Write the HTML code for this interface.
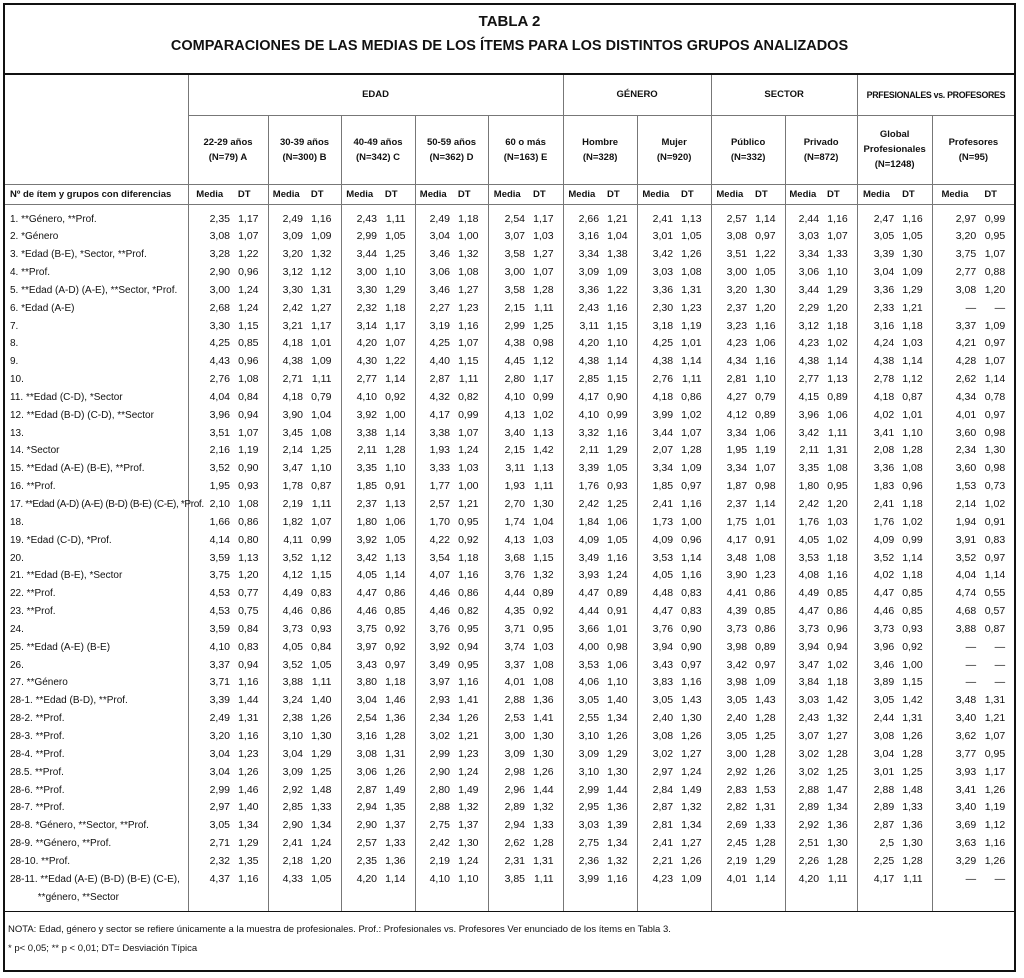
<!DOCTYPE html>
<html><head><meta charset="utf-8">
<style>
html,body{margin:0;padding:0;background:#fff;}
body{width:1024px;height:978px;position:relative;font-family:"Liberation Sans",sans-serif;color:#111;overflow:hidden;}
#box{position:absolute;left:3px;top:3px;width:1013px;height:969px;border:2px solid #111;box-sizing:border-box;}
#title{position:absolute;left:0;top:0;width:1009px;height:68px;border-bottom:2px solid #111;text-align:center;font-weight:bold;font-size:14px;}
#title div{position:absolute;left:0;right:0;}
table{position:absolute;left:0;top:70px;border-collapse:collapse;table-layout:fixed;width:1009px;}
td{padding:0;white-space:nowrap;overflow:visible;font-size:10.5px;}
tbody td{line-height:17.85px;height:17.85px;vertical-align:top;}
tbody td:nth-child(even){border-left:1px solid #777;text-align:right;padding-right:1px;}
tbody td:nth-child(odd){text-align:right;padding-right:9px;}
tbody td:first-child{text-align:left;padding-left:5px;padding-right:0;font-size:10px;}
.h td{font-weight:bold;font-size:9.5px;text-align:center;}
.gl{border-left:1px solid #777;}
.bb{border-bottom:1px solid #777;}
.mr td{height:19px;border-top:1px solid #777;border-bottom:1px solid #777;font-weight:bold;font-size:9.5px;}
.mr td:nth-child(even){border-left:1px solid #777;text-align:center;padding-right:0;}
.mr td:nth-child(odd){text-align:center;padding-right:10px;}
.mr td:first-child{text-align:left;padding-left:5px;}
tr.sp td{height:6px;line-height:6px;}
tr.end td{height:5px;line-height:5px;border-bottom:1px solid #111;}
#notes{position:absolute;left:8px;top:920px;font-size:9.5px;line-height:19px;}
</style></head><body>
<div id="box">
<div id="title"><div style="top:8px;font-size:15px">TABLA 2</div><div style="top:33px;font-size:14.5px">COMPARACIONES DE LAS MEDIAS DE LOS ÍTEMS PARA LOS DISTINTOS GRUPOS ANALIZADOS</div></div>
<table>
<colgroup><col style="width:183px">
<col style="width:43px"><col style="width:37px">
<col style="width:36px"><col style="width:37px">
<col style="width:37px"><col style="width:37px">
<col style="width:36px"><col style="width:37px">
<col style="width:38px"><col style="width:37px">
<col style="width:37px"><col style="width:37px">
<col style="width:37px"><col style="width:37px">
<col style="width:37px"><col style="width:37px">
<col style="width:35px"><col style="width:37px">
<col style="width:38px"><col style="width:37px">
<col style="width:45px"><col style="width:37px">
</colgroup>
<thead>
<tr class="h" style="height:40px"><td rowspan="2"></td><td colspan="10" class="gl bb">EDAD</td><td colspan="4" class="gl bb">GÉNERO</td><td colspan="4" class="gl bb">SECTOR</td><td colspan="4" class="gl bb" style="font-size:8.8px;letter-spacing:-0.3px">PRFESIONALES vs. PROFESORES</td></tr>
<tr class="h" style="height:69px;line-height:15px">
<td colspan="2" class="gl">22-29 años<br>(N=79) A</td>
<td colspan="2" class="gl">30-39 años<br>(N=300) B</td>
<td colspan="2" class="gl">40-49 años<br>(N=342) C</td>
<td colspan="2" class="gl">50-59 años<br>(N=362) D</td>
<td colspan="2" class="gl">60 o más<br>(N=163) E</td>
<td colspan="2" class="gl">Hombre<br>(N=328)</td>
<td colspan="2" class="gl">Mujer<br>(N=920)</td>
<td colspan="2" class="gl">Público<br>(N=332)</td>
<td colspan="2" class="gl">Privado<br>(N=872)</td>
<td colspan="2" class="gl">Global<br>Profesionales<br>(N=1248)</td>
<td colspan="2" class="gl">Profesores<br>(N=95)</td></tr>
<tr class="mr"><td>Nº de ítem y grupos con diferencias</td><td>Media</td><td>DT</td><td>Media</td><td>DT</td><td>Media</td><td>DT</td><td>Media</td><td>DT</td><td>Media</td><td>DT</td><td>Media</td><td>DT</td><td>Media</td><td>DT</td><td>Media</td><td>DT</td><td>Media</td><td>DT</td><td>Media</td><td>DT</td><td>Media</td><td>DT</td></tr>
</thead>
<tbody>
<tr class="sp"><td></td><td></td><td></td><td></td><td></td><td></td><td></td><td></td><td></td><td></td><td></td><td></td><td></td><td></td><td></td><td></td><td></td><td></td><td></td><td></td><td></td><td></td><td></td></tr>
<tr><td>1. **Género, **Prof.</td><td>2,35</td><td>1,17</td><td>2,49</td><td>1,16</td><td>2,43</td><td>1,11</td><td>2,49</td><td>1,18</td><td>2,54</td><td>1,17</td><td>2,66</td><td>1,21</td><td>2,41</td><td>1,13</td><td>2,57</td><td>1,14</td><td>2,44</td><td>1,16</td><td>2,47</td><td>1,16</td><td>2,97</td><td>0,99</td></tr>
<tr><td>2. *Género</td><td>3,08</td><td>1,07</td><td>3,09</td><td>1,09</td><td>2,99</td><td>1,05</td><td>3,04</td><td>1,00</td><td>3,07</td><td>1,03</td><td>3,16</td><td>1,04</td><td>3,01</td><td>1,05</td><td>3,08</td><td>0,97</td><td>3,03</td><td>1,07</td><td>3,05</td><td>1,05</td><td>3,20</td><td>0,95</td></tr>
<tr><td>3. *Edad (B-E), *Sector, **Prof.</td><td>3,28</td><td>1,22</td><td>3,20</td><td>1,32</td><td>3,44</td><td>1,25</td><td>3,46</td><td>1,32</td><td>3,58</td><td>1,27</td><td>3,34</td><td>1,38</td><td>3,42</td><td>1,26</td><td>3,51</td><td>1,22</td><td>3,34</td><td>1,33</td><td>3,39</td><td>1,30</td><td>3,75</td><td>1,07</td></tr>
<tr><td>4. **Prof.</td><td>2,90</td><td>0,96</td><td>3,12</td><td>1,12</td><td>3,00</td><td>1,10</td><td>3,06</td><td>1,08</td><td>3,00</td><td>1,07</td><td>3,09</td><td>1,09</td><td>3,03</td><td>1,08</td><td>3,00</td><td>1,05</td><td>3,06</td><td>1,10</td><td>3,04</td><td>1,09</td><td>2,77</td><td>0,88</td></tr>
<tr><td>5. **Edad (A-D) (A-E), **Sector, *Prof.</td><td>3,00</td><td>1,24</td><td>3,30</td><td>1,31</td><td>3,30</td><td>1,29</td><td>3,46</td><td>1,27</td><td>3,58</td><td>1,28</td><td>3,36</td><td>1,22</td><td>3,36</td><td>1,31</td><td>3,20</td><td>1,30</td><td>3,44</td><td>1,29</td><td>3,36</td><td>1,29</td><td>3,08</td><td>1,20</td></tr>
<tr><td>6. *Edad (A-E)</td><td>2,68</td><td>1,24</td><td>2,42</td><td>1,27</td><td>2,32</td><td>1,18</td><td>2,27</td><td>1,23</td><td>2,15</td><td>1,11</td><td>2,43</td><td>1,16</td><td>2,30</td><td>1,23</td><td>2,37</td><td>1,20</td><td>2,29</td><td>1,20</td><td>2,33</td><td>1,21</td><td>—</td><td>—</td></tr>
<tr><td>7.</td><td>3,30</td><td>1,15</td><td>3,21</td><td>1,17</td><td>3,14</td><td>1,17</td><td>3,19</td><td>1,16</td><td>2,99</td><td>1,25</td><td>3,11</td><td>1,15</td><td>3,18</td><td>1,19</td><td>3,23</td><td>1,16</td><td>3,12</td><td>1,18</td><td>3,16</td><td>1,18</td><td>3,37</td><td>1,09</td></tr>
<tr><td>8.</td><td>4,25</td><td>0,85</td><td>4,18</td><td>1,01</td><td>4,20</td><td>1,07</td><td>4,25</td><td>1,07</td><td>4,38</td><td>0,98</td><td>4,20</td><td>1,10</td><td>4,25</td><td>1,01</td><td>4,23</td><td>1,06</td><td>4,23</td><td>1,02</td><td>4,24</td><td>1,03</td><td>4,21</td><td>0,97</td></tr>
<tr><td>9.</td><td>4,43</td><td>0,96</td><td>4,38</td><td>1,09</td><td>4,30</td><td>1,22</td><td>4,40</td><td>1,15</td><td>4,45</td><td>1,12</td><td>4,38</td><td>1,14</td><td>4,38</td><td>1,14</td><td>4,34</td><td>1,16</td><td>4,38</td><td>1,14</td><td>4,38</td><td>1,14</td><td>4,28</td><td>1,07</td></tr>
<tr><td>10.</td><td>2,76</td><td>1,08</td><td>2,71</td><td>1,11</td><td>2,77</td><td>1,14</td><td>2,87</td><td>1,11</td><td>2,80</td><td>1,17</td><td>2,85</td><td>1,15</td><td>2,76</td><td>1,11</td><td>2,81</td><td>1,10</td><td>2,77</td><td>1,13</td><td>2,78</td><td>1,12</td><td>2,62</td><td>1,14</td></tr>
<tr><td>11. **Edad (C-D), *Sector</td><td>4,04</td><td>0,84</td><td>4,18</td><td>0,79</td><td>4,10</td><td>0,92</td><td>4,32</td><td>0,82</td><td>4,10</td><td>0,99</td><td>4,17</td><td>0,90</td><td>4,18</td><td>0,86</td><td>4,27</td><td>0,79</td><td>4,15</td><td>0,89</td><td>4,18</td><td>0,87</td><td>4,34</td><td>0,78</td></tr>
<tr><td>12. **Edad (B-D) (C-D), **Sector</td><td>3,96</td><td>0,94</td><td>3,90</td><td>1,04</td><td>3,92</td><td>1,00</td><td>4,17</td><td>0,99</td><td>4,13</td><td>1,02</td><td>4,10</td><td>0,99</td><td>3,99</td><td>1,02</td><td>4,12</td><td>0,89</td><td>3,96</td><td>1,06</td><td>4,02</td><td>1,01</td><td>4,01</td><td>0,97</td></tr>
<tr><td>13.</td><td>3,51</td><td>1,07</td><td>3,45</td><td>1,08</td><td>3,38</td><td>1,14</td><td>3,38</td><td>1,07</td><td>3,40</td><td>1,13</td><td>3,32</td><td>1,16</td><td>3,44</td><td>1,07</td><td>3,34</td><td>1,06</td><td>3,42</td><td>1,11</td><td>3,41</td><td>1,10</td><td>3,60</td><td>0,98</td></tr>
<tr><td>14. *Sector</td><td>2,16</td><td>1,19</td><td>2,14</td><td>1,25</td><td>2,11</td><td>1,28</td><td>1,93</td><td>1,24</td><td>2,15</td><td>1,42</td><td>2,11</td><td>1,29</td><td>2,07</td><td>1,28</td><td>1,95</td><td>1,19</td><td>2,11</td><td>1,31</td><td>2,08</td><td>1,28</td><td>2,34</td><td>1,30</td></tr>
<tr><td>15. **Edad (A-E) (B-E), **Prof.</td><td>3,52</td><td>0,90</td><td>3,47</td><td>1,10</td><td>3,35</td><td>1,10</td><td>3,33</td><td>1,03</td><td>3,11</td><td>1,13</td><td>3,39</td><td>1,05</td><td>3,34</td><td>1,09</td><td>3,34</td><td>1,07</td><td>3,35</td><td>1,08</td><td>3,36</td><td>1,08</td><td>3,60</td><td>0,98</td></tr>
<tr><td>16. **Prof.</td><td>1,95</td><td>0,93</td><td>1,78</td><td>0,87</td><td>1,85</td><td>0,91</td><td>1,77</td><td>1,00</td><td>1,93</td><td>1,11</td><td>1,76</td><td>0,93</td><td>1,85</td><td>0,97</td><td>1,87</td><td>0,98</td><td>1,80</td><td>0,95</td><td>1,83</td><td>0,96</td><td>1,53</td><td>0,73</td></tr>
<tr><td style="letter-spacing:-0.35px">17. **Edad (A-D) (A-E) (B-D) (B-E) (C-E), *Prof.</td><td>2,10</td><td>1,08</td><td>2,19</td><td>1,11</td><td>2,37</td><td>1,13</td><td>2,57</td><td>1,21</td><td>2,70</td><td>1,30</td><td>2,42</td><td>1,25</td><td>2,41</td><td>1,16</td><td>2,37</td><td>1,14</td><td>2,42</td><td>1,20</td><td>2,41</td><td>1,18</td><td>2,14</td><td>1,02</td></tr>
<tr><td>18.</td><td>1,66</td><td>0,86</td><td>1,82</td><td>1,07</td><td>1,80</td><td>1,06</td><td>1,70</td><td>0,95</td><td>1,74</td><td>1,04</td><td>1,84</td><td>1,06</td><td>1,73</td><td>1,00</td><td>1,75</td><td>1,01</td><td>1,76</td><td>1,03</td><td>1,76</td><td>1,02</td><td>1,94</td><td>0,91</td></tr>
<tr><td>19. *Edad (C-D), *Prof.</td><td>4,14</td><td>0,80</td><td>4,11</td><td>0,99</td><td>3,92</td><td>1,05</td><td>4,22</td><td>0,92</td><td>4,13</td><td>1,03</td><td>4,09</td><td>1,05</td><td>4,09</td><td>0,96</td><td>4,17</td><td>0,91</td><td>4,05</td><td>1,02</td><td>4,09</td><td>0,99</td><td>3,91</td><td>0,83</td></tr>
<tr><td>20.</td><td>3,59</td><td>1,13</td><td>3,52</td><td>1,12</td><td>3,42</td><td>1,13</td><td>3,54</td><td>1,18</td><td>3,68</td><td>1,15</td><td>3,49</td><td>1,16</td><td>3,53</td><td>1,14</td><td>3,48</td><td>1,08</td><td>3,53</td><td>1,18</td><td>3,52</td><td>1,14</td><td>3,52</td><td>0,97</td></tr>
<tr><td>21. **Edad (B-E), *Sector</td><td>3,75</td><td>1,20</td><td>4,12</td><td>1,15</td><td>4,05</td><td>1,14</td><td>4,07</td><td>1,16</td><td>3,76</td><td>1,32</td><td>3,93</td><td>1,24</td><td>4,05</td><td>1,16</td><td>3,90</td><td>1,23</td><td>4,08</td><td>1,16</td><td>4,02</td><td>1,18</td><td>4,04</td><td>1,14</td></tr>
<tr><td>22. **Prof.</td><td>4,53</td><td>0,77</td><td>4,49</td><td>0,83</td><td>4,47</td><td>0,86</td><td>4,46</td><td>0,86</td><td>4,44</td><td>0,89</td><td>4,47</td><td>0,89</td><td>4,48</td><td>0,83</td><td>4,41</td><td>0,86</td><td>4,49</td><td>0,85</td><td>4,47</td><td>0,85</td><td>4,74</td><td>0,55</td></tr>
<tr><td>23. **Prof.</td><td>4,53</td><td>0,75</td><td>4,46</td><td>0,86</td><td>4,46</td><td>0,85</td><td>4,46</td><td>0,82</td><td>4,35</td><td>0,92</td><td>4,44</td><td>0,91</td><td>4,47</td><td>0,83</td><td>4,39</td><td>0,85</td><td>4,47</td><td>0,86</td><td>4,46</td><td>0,85</td><td>4,68</td><td>0,57</td></tr>
<tr><td>24.</td><td>3,59</td><td>0,84</td><td>3,73</td><td>0,93</td><td>3,75</td><td>0,92</td><td>3,76</td><td>0,95</td><td>3,71</td><td>0,95</td><td>3,66</td><td>1,01</td><td>3,76</td><td>0,90</td><td>3,73</td><td>0,86</td><td>3,73</td><td>0,96</td><td>3,73</td><td>0,93</td><td>3,88</td><td>0,87</td></tr>
<tr><td>25. **Edad (A-E) (B-E)</td><td>4,10</td><td>0,83</td><td>4,05</td><td>0,84</td><td>3,97</td><td>0,92</td><td>3,92</td><td>0,94</td><td>3,74</td><td>1,03</td><td>4,00</td><td>0,98</td><td>3,94</td><td>0,90</td><td>3,98</td><td>0,89</td><td>3,94</td><td>0,94</td><td>3,96</td><td>0,92</td><td>—</td><td>—</td></tr>
<tr><td>26.</td><td>3,37</td><td>0,94</td><td>3,52</td><td>1,05</td><td>3,43</td><td>0,97</td><td>3,49</td><td>0,95</td><td>3,37</td><td>1,08</td><td>3,53</td><td>1,06</td><td>3,43</td><td>0,97</td><td>3,42</td><td>0,97</td><td>3,47</td><td>1,02</td><td>3,46</td><td>1,00</td><td>—</td><td>—</td></tr>
<tr><td>27. **Género</td><td>3,71</td><td>1,16</td><td>3,88</td><td>1,11</td><td>3,80</td><td>1,18</td><td>3,97</td><td>1,16</td><td>4,01</td><td>1,08</td><td>4,06</td><td>1,10</td><td>3,83</td><td>1,16</td><td>3,98</td><td>1,09</td><td>3,84</td><td>1,18</td><td>3,89</td><td>1,15</td><td>—</td><td>—</td></tr>
<tr><td>28-1. **Edad (B-D), **Prof.</td><td>3,39</td><td>1,44</td><td>3,24</td><td>1,40</td><td>3,04</td><td>1,46</td><td>2,93</td><td>1,41</td><td>2,88</td><td>1,36</td><td>3,05</td><td>1,40</td><td>3,05</td><td>1,43</td><td>3,05</td><td>1,43</td><td>3,03</td><td>1,42</td><td>3,05</td><td>1,42</td><td>3,48</td><td>1,31</td></tr>
<tr><td>28-2. **Prof.</td><td>2,49</td><td>1,31</td><td>2,38</td><td>1,26</td><td>2,54</td><td>1,36</td><td>2,34</td><td>1,26</td><td>2,53</td><td>1,41</td><td>2,55</td><td>1,34</td><td>2,40</td><td>1,30</td><td>2,40</td><td>1,28</td><td>2,43</td><td>1,32</td><td>2,44</td><td>1,31</td><td>3,40</td><td>1,21</td></tr>
<tr><td>28-3. **Prof.</td><td>3,20</td><td>1,16</td><td>3,10</td><td>1,30</td><td>3,16</td><td>1,28</td><td>3,02</td><td>1,21</td><td>3,00</td><td>1,30</td><td>3,10</td><td>1,26</td><td>3,08</td><td>1,26</td><td>3,05</td><td>1,25</td><td>3,07</td><td>1,27</td><td>3,08</td><td>1,26</td><td>3,62</td><td>1,07</td></tr>
<tr><td>28-4. **Prof.</td><td>3,04</td><td>1,23</td><td>3,04</td><td>1,29</td><td>3,08</td><td>1,31</td><td>2,99</td><td>1,23</td><td>3,09</td><td>1,30</td><td>3,09</td><td>1,29</td><td>3,02</td><td>1,27</td><td>3,00</td><td>1,28</td><td>3,02</td><td>1,28</td><td>3,04</td><td>1,28</td><td>3,77</td><td>0,95</td></tr>
<tr><td>28.5. **Prof.</td><td>3,04</td><td>1,26</td><td>3,09</td><td>1,25</td><td>3,06</td><td>1,26</td><td>2,90</td><td>1,24</td><td>2,98</td><td>1,26</td><td>3,10</td><td>1,30</td><td>2,97</td><td>1,24</td><td>2,92</td><td>1,26</td><td>3,02</td><td>1,25</td><td>3,01</td><td>1,25</td><td>3,93</td><td>1,17</td></tr>
<tr><td>28-6. **Prof.</td><td>2,99</td><td>1,46</td><td>2,92</td><td>1,48</td><td>2,87</td><td>1,49</td><td>2,80</td><td>1,49</td><td>2,96</td><td>1,44</td><td>2,99</td><td>1,44</td><td>2,84</td><td>1,49</td><td>2,83</td><td>1,53</td><td>2,88</td><td>1,47</td><td>2,88</td><td>1,48</td><td>3,41</td><td>1,26</td></tr>
<tr><td>28-7. **Prof.</td><td>2,97</td><td>1,40</td><td>2,85</td><td>1,33</td><td>2,94</td><td>1,35</td><td>2,88</td><td>1,32</td><td>2,89</td><td>1,32</td><td>2,95</td><td>1,36</td><td>2,87</td><td>1,32</td><td>2,82</td><td>1,31</td><td>2,89</td><td>1,34</td><td>2,89</td><td>1,33</td><td>3,40</td><td>1,19</td></tr>
<tr><td>28-8. *Género, **Sector, **Prof.</td><td>3,05</td><td>1,34</td><td>2,90</td><td>1,34</td><td>2,90</td><td>1,37</td><td>2,75</td><td>1,37</td><td>2,94</td><td>1,33</td><td>3,03</td><td>1,39</td><td>2,81</td><td>1,34</td><td>2,69</td><td>1,33</td><td>2,92</td><td>1,36</td><td>2,87</td><td>1,36</td><td>3,69</td><td>1,12</td></tr>
<tr><td>28-9. **Género, **Prof.</td><td>2,71</td><td>1,29</td><td>2,41</td><td>1,24</td><td>2,57</td><td>1,33</td><td>2,42</td><td>1,30</td><td>2,62</td><td>1,28</td><td>2,75</td><td>1,34</td><td>2,41</td><td>1,27</td><td>2,45</td><td>1,28</td><td>2,51</td><td>1,30</td><td>2,5</td><td>1,30</td><td>3,63</td><td>1,16</td></tr>
<tr><td>28-10. **Prof.</td><td>2,32</td><td>1,35</td><td>2,18</td><td>1,20</td><td>2,35</td><td>1,36</td><td>2,19</td><td>1,24</td><td>2,31</td><td>1,31</td><td>2,36</td><td>1,32</td><td>2,21</td><td>1,26</td><td>2,19</td><td>1,29</td><td>2,26</td><td>1,28</td><td>2,25</td><td>1,28</td><td>3,29</td><td>1,26</td></tr>
<tr style="height:35.7px"><td>28-11. **Edad (A-E) (B-D) (B-E) (C-E),<br>&nbsp;&nbsp;&nbsp;&nbsp;&nbsp;&nbsp;&nbsp;&nbsp;&nbsp;&nbsp;**género, **Sector</td><td>4,37</td><td>1,16</td><td>4,33</td><td>1,05</td><td>4,20</td><td>1,14</td><td>4,10</td><td>1,10</td><td>3,85</td><td>1,11</td><td>3,99</td><td>1,16</td><td>4,23</td><td>1,09</td><td>4,01</td><td>1,14</td><td>4,20</td><td>1,11</td><td>4,17</td><td>1,11</td><td>—</td><td>—</td></tr>
<tr class="end"><td></td><td></td><td></td><td></td><td></td><td></td><td></td><td></td><td></td><td></td><td></td><td></td><td></td><td></td><td></td><td></td><td></td><td></td><td></td><td></td><td></td><td></td><td></td></tr>
</tbody>
</table>
</div>
<div id="notes">NOTA: Edad, género y sector se refiere únicamente a la muestra de profesionales. Prof.: Profesionales vs. Profesores Ver enunciado de los ítems en Tabla 3.<br>* p&lt; 0,05; ** p &lt; 0,01; DT= Desviación Típica</div>
</body></html>
